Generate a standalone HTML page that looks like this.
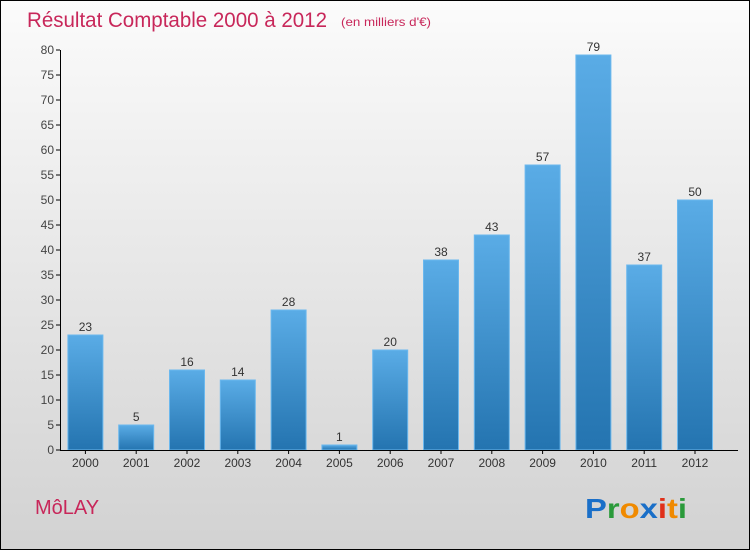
<!DOCTYPE html>
<html><head><meta charset="utf-8"><style>
body{margin:0}
#c{width:748px;height:548px;border:1px solid #000;background:linear-gradient(#fbfbfb,#d2d2d2);position:relative;font-family:"Liberation Sans",sans-serif;overflow:hidden}
</style></head><body>
<div id="c">
<svg width="748" height="548" id="s">
<defs><linearGradient id="g" x1="0" y1="0" x2="0" y2="1"><stop offset="0" stop-color="#5aace6"/><stop offset="1" stop-color="#2474b0"/></linearGradient></defs>
<text x="26" y="26" font-size="21" fill="#c8275a" textLength="300" lengthAdjust="spacingAndGlyphs">Résultat Comptable 2000 à 2012</text>
<text x="340" y="25" font-size="12" fill="#c8275a" textLength="90" lengthAdjust="spacingAndGlyphs">(en milliers d'€)</text>
<text x="34" y="513" font-size="20" fill="#c8275a">MôLAY</text>
<g font-size="28" font-weight="bold" font-family="'Liberation Sans',sans-serif"><text x="584" y="517" textLength="102" lengthAdjust="spacingAndGlyphs"><tspan fill="#1a6fc8">P</tspan><tspan fill="#2a9a3a">r</tspan><tspan fill="#f08a00">o</tspan><tspan fill="#1a6fc8">x</tspan><tspan fill="#e0301a">i</tspan><tspan fill="#f08a00">t</tspan><tspan fill="#2a9a3a">i</tspan></text></g>
<g id="plot"></g>
</svg>
</div>
<script>
const categories=["2000","2001","2002","2003","2004","2005","2006","2007","2008","2009","2010","2011","2012"];
const values=[23,5,16,14,28,1,20,38,43,57,79,37,50];
const yTicks=[0,5,10,15,20,25,30,35,40,45,50,55,60,65,70,75,80];
const ns="http://www.w3.org/2000/svg";
const g=document.getElementById('plot');
const y=v=>449-v*5, x=i=>59+25.4+i*50.8;
function mk(t,a){const e=document.createElementNS(ns,t);for(const k in a)e.setAttribute(k,a[k]);g.appendChild(e);return e;}
yTicks.forEach(v=>{
 const l=mk('line',{x1:55,x2:59,y1:y(v),y2:y(v),stroke:'#000'});
 
 
 const t=mk('text',{x:53,y:y(v)+4,'font-size':12,fill:'#444','text-anchor':'end'});t.textContent=v;
 
 
});
values.forEach((v,i)=>{
 const r=mk('rect',{x:x(i)-17.5,y:y(v),width:35,height:v*5,fill:'url(#g)',stroke:'#6bb8ee','stroke-width':1});
 
 
 const t=mk('text',{x:x(i),y:y(v)-4,'font-size':12,fill:'#333','text-anchor':'middle'});t.textContent=v;
 
 
 const k=mk('line',{x1:x(i),x2:x(i),y1:449,y2:453,stroke:'#000'});
 
 
 const c=mk('text',{x:x(i),y:466,'font-size':12,fill:'#333','text-anchor':'middle'});c.textContent=categories[i];
 
 
});
const ya=mk('line',{x1:59.5,x2:59.5,y1:y(80),y2:449.5,stroke:'#000'});


const xa=mk('line',{x1:59,x2:737,y1:449.5,y2:449.5,stroke:'#000'});


</script>
</body></html>
